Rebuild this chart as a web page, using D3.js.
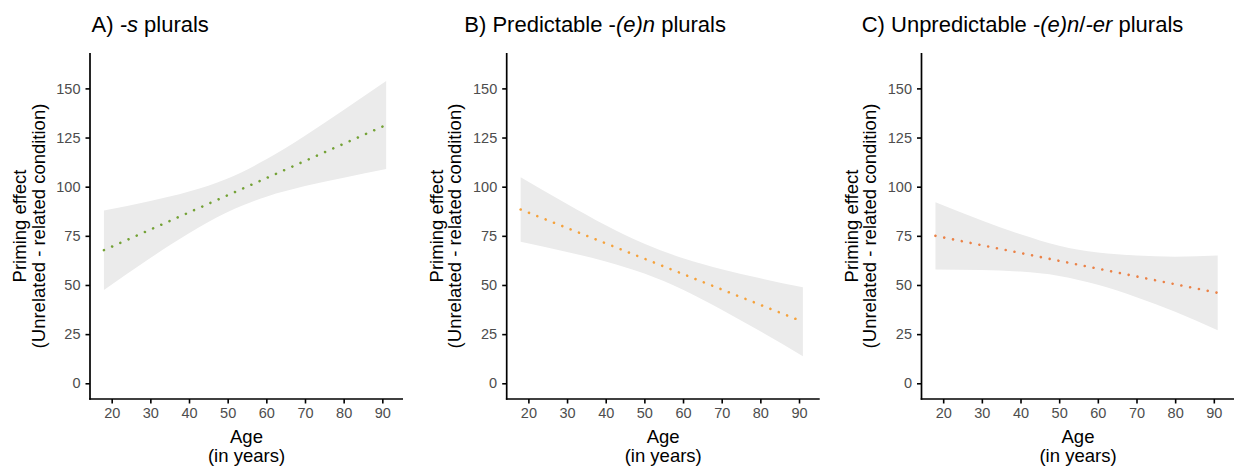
<!DOCTYPE html>
<html>
<head>
<meta charset="utf-8">
<script src="https://cdn.jsdelivr.net/npm/d3@7"></script>
<style>
  html, body { margin: 0; padding: 0; background: #fff; }
  svg { display: block; font-family: "Liberation Sans", Arial, Helvetica, sans-serif; }
</style>
</head>
<body>
<svg id="chart" width="1234" height="468"></svg>
<script>
// ---- data ----
const bandAges = [18, 30, 40, 50, 60, 70, 80, 91];
const upperA = [87.9, 92.7, 97.5, 104.2, 113.9, 125.9, 139.0, 153.8];
const lowerA = [47.5, 63.7, 76.3, 87.1, 94.9, 100.3, 104.6, 109.0];
const upperB = [104.8, 91.2, 80.4, 71.0, 63.6, 58.0, 53.4, 48.8];
const lowerB = [72.0, 66.8, 62.0, 55.8, 47.6, 37.4, 26.4, 13.8];
const upperC = [92.1, 82.8, 75.8, 70.0, 66.5, 65.0, 64.4, 65.0];
const lowerC = [57.9, 57.6, 56.8, 54.6, 50.1, 43.8, 36.4, 27.0];

const fitAges = [18, 91];
const fitA = [67.7, 131.4];
const fitB = [88.4, 31.3];
const fitC = [75.0, 46.0];

const xTicks = [20, 30, 40, 50, 60, 70, 80, 90];
const yTicks = [0, 25, 50, 75, 100, 125, 150];

const titleParts = [
  [["A) ", false], ["-s", true], [" plurals", false]],
  [["B) Predictable -", false], ["(e)n", true], [" plurals", false]],
  [["C) Unpredictable -", false], ["(e)n", true], ["/", false], ["-er", true], [" plurals", false]]
];
const lineColors = ["#74a236", "#f5a23c", "#eb8247"];

// ---- layout ----
const panels = [
  { axisX: 90,    titleX: 91.5, upper: upperA, lower: lowerA, fit: fitA },
  { axisX: 506.7, titleX: 464.3, upper: upperB, lower: lowerB, fit: fitB },
  { axisX: 921.5, titleX: 861.7, upper: upperC, lower: lowerC, fit: fitC }
];
const plotW = 313, plotTop = 53, plotBottom = 399;

const svg = d3.select("#chart");
svg.append("rect").attr("width", 1234).attr("height", 468).attr("fill", "#fff");

const y = d3.scaleLinear().domain([-8, 168]).range([plotBottom, plotTop]);

panels.forEach((p, i) => {
  const x = d3.scaleLinear().domain([14.39, 95.35]).range([p.axisX, p.axisX + plotW]);
  const g = svg.append("g");

  // confidence band
  const area = d3.area()
    .x(d => x(d.age))
    .y0(d => y(d.lo))
    .y1(d => y(d.hi))
    .curve(d3.curveMonotoneX);
  const bandData = bandAges.map((a, k) => ({ age: a, lo: p.lower[k], hi: p.upper[k] }));
  g.append("path").datum(bandData).attr("d", area).attr("fill", "#ebebeb");

  // fitted line (dotted)
  const line = d3.line().x(d => x(d.age)).y(d => y(d.v));
  const fitData = fitAges.map((a, k) => ({ age: a, v: p.fit[k] }));
  g.append("path").datum(fitData).attr("d", line)
    .attr("fill", "none")
    .attr("stroke", lineColors[i])
    .attr("stroke-width", 2.6)
    .attr("stroke-linecap", "round")
    .attr("stroke-dasharray", "0.01 8.95");

  // y axis
  const yAxis = d3.axisLeft(y).tickValues(yTicks).tickSize(4.5).tickPadding(5).tickSizeOuter(0);
  const ya = g.append("g").attr("transform", `translate(${p.axisX},0)`).call(yAxis);
  ya.select(".domain").remove();
  ya.append("line").attr("x1", 0).attr("x2", 0).attr("y1", plotTop).attr("y2", plotBottom + 0.8)
    .attr("stroke", "#000").attr("stroke-width", 1.7);
  ya.selectAll(".tick line").attr("stroke", "#000").attr("stroke-width", 1.6);
  ya.selectAll(".tick text").attr("fill", "#4d4d4d").attr("font-size", 14.5)
    .attr("font-family", "Liberation Sans, Arial, sans-serif");

  // x axis
  const xAxis = d3.axisBottom(x).tickValues(xTicks).tickSize(4.5).tickPadding(4).tickSizeOuter(0);
  const xa = g.append("g").attr("transform", `translate(0,${plotBottom})`).call(xAxis);
  xa.select(".domain").remove();
  xa.append("line").attr("x1", p.axisX - 0.8).attr("x2", p.axisX + plotW).attr("y1", 0).attr("y2", 0)
    .attr("stroke", "#000").attr("stroke-width", 1.7);
  xa.selectAll(".tick line").attr("stroke", "#000").attr("stroke-width", 1.6);
  xa.selectAll(".tick text").attr("fill", "#4d4d4d").attr("font-size", 14.5)
    .attr("font-family", "Liberation Sans, Arial, sans-serif");

  // x axis title
  const cx = p.axisX + plotW / 2;
  g.append("text").attr("x", cx).attr("y", 442.7).attr("text-anchor", "middle")
    .attr("font-size", 18.5).attr("fill", "#000").text("Age");
  g.append("text").attr("x", cx).attr("y", 461.5).attr("text-anchor", "middle")
    .attr("font-size", 18.5).attr("fill", "#000").text("(in years)");

  // y axis title
  const cy = (plotTop + plotBottom) / 2;
  const yt = g.append("g").attr("transform", `translate(${p.axisX - 64},${cy}) rotate(-90)`);
  yt.append("text").attr("x", 0).attr("y", 0).attr("text-anchor", "middle")
    .attr("font-size", 18.5).attr("fill", "#000").text("Priming effect");
  yt.append("text").attr("x", 0).attr("y", 18.6).attr("text-anchor", "middle")
    .attr("font-size", 18.5).attr("fill", "#000").text("(Unrelated - related condition)");

  // title
  const t = g.append("text").attr("x", p.titleX).attr("y", 32.3)
    .attr("font-size", 22).attr("fill", "#000");
  titleParts[i].forEach(([s, it]) => {
    t.append("tspan").attr("font-style", it ? "italic" : "normal").text(s);
  });
});
</script>
</body>
</html>
